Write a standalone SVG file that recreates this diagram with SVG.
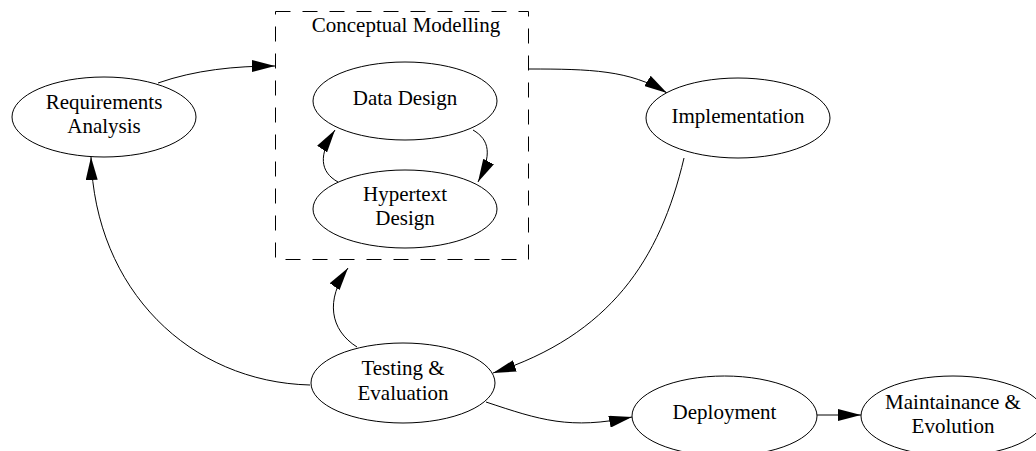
<svg xmlns="http://www.w3.org/2000/svg" width="1036" height="451" viewBox="0 0 1036 451">
<style>
.n{fill:#fff;stroke:#000;stroke-width:1}
.t{font-family:"Liberation Serif","Times New Roman",serif;font-size:21px;fill:#000;text-anchor:middle}
.e{fill:none;stroke:#000;stroke-width:1;marker-end:url(#ah)}
.box{fill:none;stroke:#000;stroke-width:1;stroke-dasharray:15 12}
</style>
<defs>
<marker id="ah" markerUnits="userSpaceOnUse" markerWidth="24" markerHeight="12" refX="23" refY="6" orient="auto">
<path d="M0,0 L23,6 L0,12 z" fill="#000"/>
</marker>
</defs>
<rect width="1036" height="451" fill="#fff"/>
<g id="conceptual-modelling">
<rect class="box" x="275.5" y="11.5" width="253" height="248"/>
<text class="t" x="406" y="32">Conceptual Modelling</text>
</g>
<g id="connectors">
<path class="e" d="M158,83 C195,70 235,66 275,66"/>
<path class="e" d="M529,69 C590,69 630,70 667,93"/>
<path class="e" d="M473,130 C490,140 492,155 478,182"/>
<path class="e" d="M338,182 C320,172 318,155 335,130"/>
<path class="e" d="M684,158 C660,260 610,335 493,373"/>
<path class="e" d="M357,347 C330,330 325,300 348,268"/>
<path class="e" d="M310,385 C190,382 95,290 91,157"/>
<path class="e" d="M486,402 C540,420 570,430 632,417"/>
<path class="e" d="M817,415 L861,415"/>
</g>
<g id="requirements-analysis">
<ellipse class="n" cx="104" cy="117" rx="92" ry="40"/>
<text class="t" x="104" y="109">Requirements</text>
<text class="t" x="104" y="133">Analysis</text>
</g>
<g id="data-design">
<ellipse class="n" cx="405" cy="101" rx="92" ry="39"/>
<text class="t" x="405" y="105">Data Design</text>
</g>
<g id="hypertext-design">
<ellipse class="n" cx="405" cy="209" rx="92" ry="39"/>
<text class="t" x="405" y="201">Hypertext</text>
<text class="t" x="405" y="225">Design</text>
</g>
<g id="implementation">
<ellipse class="n" cx="738" cy="118" rx="92" ry="40"/>
<text class="t" x="738" y="123">Implementation</text>
</g>
<g id="testing-evaluation">
<ellipse class="n" cx="403" cy="383" rx="92" ry="40"/>
<text class="t" x="403" y="375">Testing &amp;</text>
<text class="t" x="403" y="400">Evaluation</text>
</g>
<g id="deployment">
<ellipse class="n" cx="724.5" cy="416" rx="92.5" ry="40"/>
<text class="t" x="724.5" y="419">Deployment</text>
</g>
<g id="maintainance-evolution">
<ellipse class="n" cx="953" cy="416" rx="92" ry="40"/>
<text class="t" x="953" y="409">Maintainance &amp;</text>
<text class="t" x="953" y="433">Evolution</text>
</g>
</svg>
